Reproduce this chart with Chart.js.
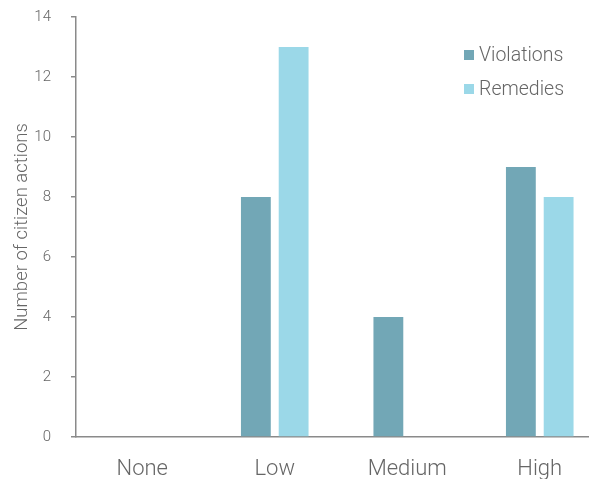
<!DOCTYPE html>
<html>
<head>
<meta charset="utf-8">
<script src="https://cdn.jsdelivr.net/npm/chart.js@4.4.1/dist/chart.umd.min.js"></script>
<style>
  html, body { margin: 0; padding: 0; background: #fff; overflow: hidden; }
  #wrap { width: 589px; height: 479px; overflow: hidden; }
  #box { width: 606px; height: 479px; }
</style>
</head>
<body>
<div id="wrap"><div id="box"><canvas id="chart"></canvas></div></div>
<script>
var categories = ['None', 'Low', 'Medium', 'High'];
var violations = [0, 8, 4, 9];
var remedies = [0, 13, 0, 8];
var yTicks = [0, 2, 4, 6, 8, 10, 12, 14];

var FONT = 'Roboto, "Liberation Sans", sans-serif';
var TEXT = '#666';
var AXIS = '#8a8a8a';

// legend drawn inside the plot, top right
var innerLegend = {
    id: 'innerLegend',
    afterDraw: function (chart) {
        var c = chart.ctx;
        var x = 464, y = 55;
        c.save();
        c.font = '300 19.5px ' + FONT;
        c.textBaseline = 'middle';
        chart.data.datasets.forEach(function (ds, i) {
            c.fillStyle = ds.backgroundColor;
            c.fillRect(x, y + i * 34 - 5, 10, 10);
            c.fillStyle = TEXT;
            c.fillText(ds.label, x + 15, y + i * 34 + 1);
        });
        c.restore();
    }
};

new Chart(document.getElementById('chart').getContext('2d'), {
    type: 'bar',
    data: {
        labels: categories,
        datasets: [{
            label: 'Violations',
            data: violations,
            backgroundColor: '#72a7b6'
        }, {
            label: 'Remedies',
            data: remedies,
            backgroundColor: '#9bd8e8'
        }]
    },
    options: {
        responsive: true,
        maintainAspectRatio: false,
        animation: false,
        categoryPercentage: 0.57,
        barPercentage: 0.79,
        layout: { padding: { top: 17, right: 0, left: 0, bottom: 0 } },
        plugins: {
            legend: { display: false },
            tooltip: { enabled: false }
        },
        scales: {
            x: {
                grid: { display: false },
                border: { color: AXIS, width: 1.5 },
                ticks: { color: TEXT, padding: 11, font: { family: FONT, size: 22, weight: '300' } },
                afterFit: function (s) { s.height = 42; }
            },
            y: {
                min: 0,
                max: 14,
                afterBuildTicks: function (s) {
                    s.ticks = yTicks.map(function (v) { return { value: v }; });
                },
                grid: { drawOnChartArea: false, drawTicks: true, tickLength: 5, color: AXIS, lineWidth: 1.5 },
                border: { color: AXIS, width: 1.5 },
                ticks: { color: TEXT, padding: 20, font: { family: FONT, size: 15, weight: '300' } },
                title: {
                    display: true,
                    text: 'Number of citizen actions',
                    color: TEXT,
                    padding: { top: 11, bottom: 0 },
                    font: { family: FONT, size: 18.5, weight: '300' }
                },
                afterFit: function (s) {
                    s.width = 76;
                    s.paddingTop = 0;
                    s.paddingBottom = 0;
                }
            }
        }
    },
    plugins: [innerLegend]
});
</script>
</body>
</html>
